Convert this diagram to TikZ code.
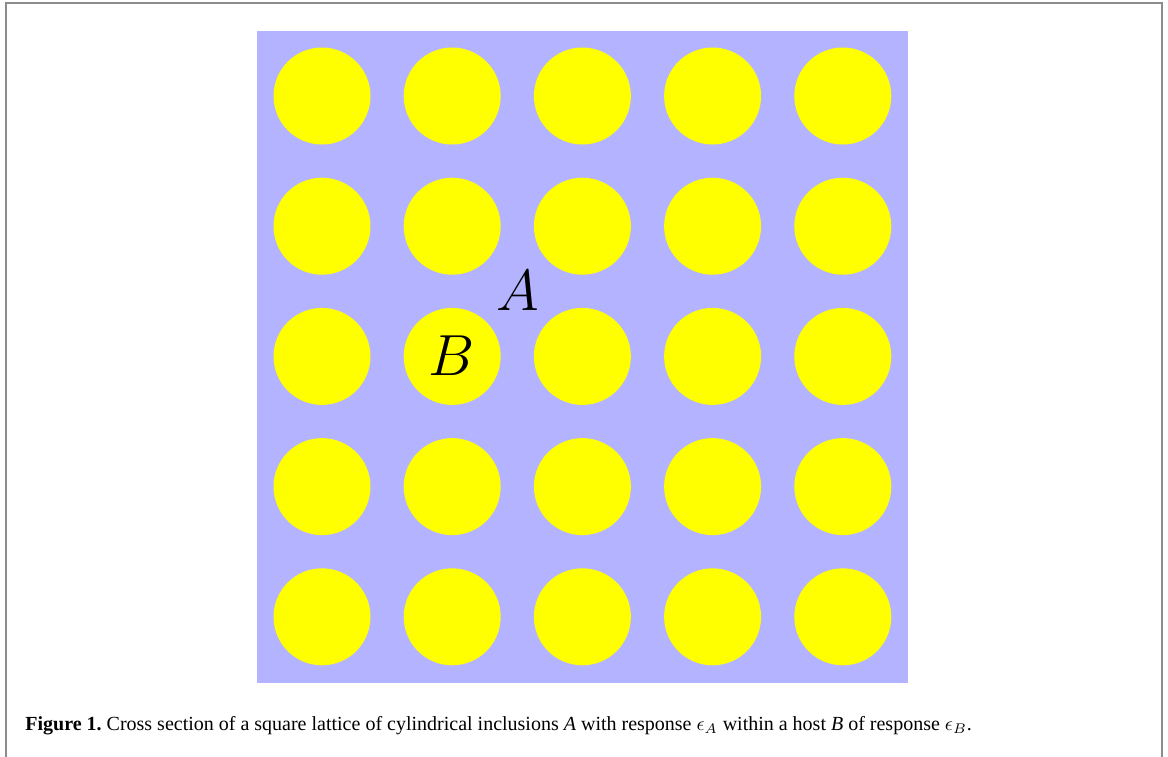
\documentclass[tikz,border=0pt]{standalone}
\usepackage{fix-cm}
\usepackage{fontspec}
\setmainfont{Liberation Serif}
\frenchspacing

\definecolor{hostblue}{HTML}{B3B3FF}
\definecolor{rodyellow}{HTML}{FFFF00}

\begin{document}
\begin{tikzpicture}[x=0.5pt,y=-0.5pt]
    \useasboundingbox (0,0) rectangle (1168,756);
    \draw[line width=1pt,gray!90] (6,770) -- (6,3) -- (1162,3) -- (1162,770);

    % host B with the rods A
    \fill[hostblue] (257,31) rectangle (908,683);
    \foreach \i in {0,...,4}
        \foreach \j in {0,...,4}
            \node[circle,fill=rodyellow,inner sep=0pt,minimum size=48.5pt] (rod\i\j) at (322+130.2*\i,96+130.2*\j) {};

    \node (labA) at (518,291) {\fontsize{29}{30}\selectfont $A$};
    \node (labB) at (452,356) {\fontsize{29}{30}\selectfont $B$};

    \node[anchor=base west,inner sep=0pt] (caption) at (25,730) {\fontsize{10}{12}\selectfont \textbf{Figure 1.} Cross section of a square lattice of cylindrical inclusions \textit{A} with response $\epsilon_A$ within a host \textit{B} of response $\epsilon_B$.};
\end{tikzpicture}
\end{document}
